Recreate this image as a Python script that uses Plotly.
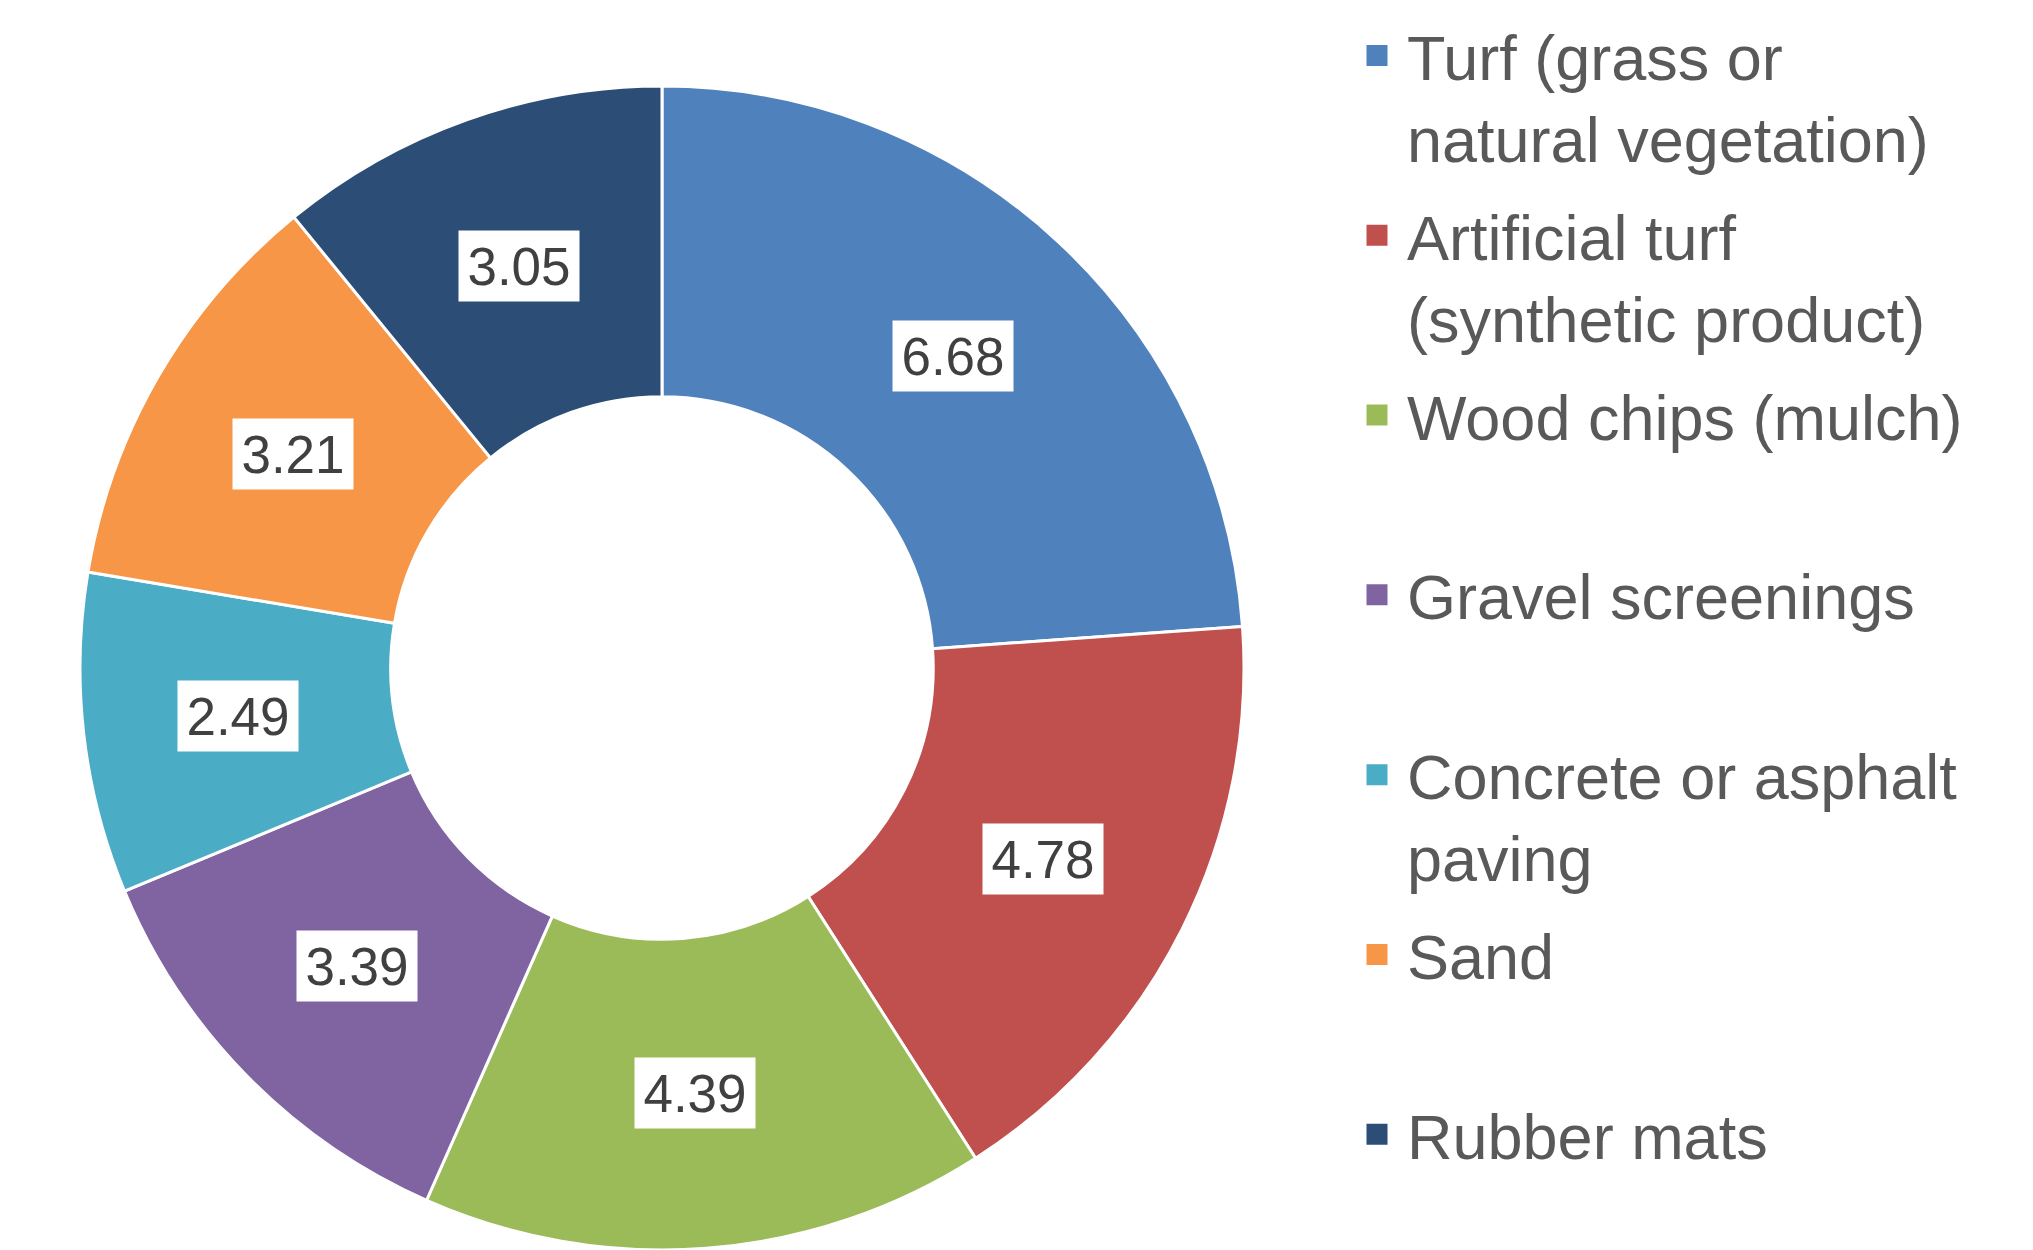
import math
import plotly.graph_objects as go

# data
surfaces = [
    "Turf (grass or<br>natural vegetation)",
    "Artificial turf<br>(synthetic product)",
    "Wood chips (mulch)",
    "Gravel screenings",
    "Concrete or asphalt<br>paving",
    "Sand",
    "Rubber mats",
]
scores = [6.68, 4.78, 4.39, 3.39, 2.49, 3.21, 3.05]
colors = ["#4F81BD", "#C0504D", "#9BBB59", "#8064A2", "#4BACC6", "#F79646", "#2C4D75"]

# the page body has an 8px margin, so the figure is sized to the visible part
PAGE = 8
W, H = 2033 - PAGE, 1250 - PAGE
cx, cy, R = 662 - PAGE, 668 - PAGE, 582
hole = 0.466

fig = go.Figure()

fig.add_trace(go.Pie(
    labels=surfaces,
    values=scores,
    sort=False,
    direction="clockwise",
    rotation=0,
    hole=hole,
    marker=dict(colors=colors, line=dict(color="white", width=3)),
    textinfo="none",
    showlegend=False,
    hoverinfo="label+value",
    domain=dict(x=[(cx - R) / W, (cx + R) / W], y=[max(0, 1 - (cy + R) / H), 1 - (cy - R) / H]),
))

# legend entries, one group each so the spacing is even
for i, (name, col) in enumerate(zip(surfaces, colors)):
    label = name if ("<br>" in name or i == len(surfaces) - 1) else name + "<br>\u00a0"
    fig.add_trace(go.Scatter(
        x=[None], y=[None], mode="markers", name=label,
        legendgroup=name,
        marker=dict(symbol="square", size=16, color=col, line=dict(color=col, width=5)),
    ))

# value labels in white boxes at the middle of the ring
total = sum(scores)
mid = R * (1 + hole) / 2
start = 0
for v in scores:
    ang = (start + v / 2) / total * 2 * math.pi
    start += v
    fig.add_annotation(
        x=(cx + mid * math.sin(ang)) / W,
        y=1 - (cy - mid * math.cos(ang)) / H,
        xref="paper", yref="paper",
        xanchor="center", yanchor="middle",
        text=f"{v:.2f}", showarrow=False,
        bgcolor="white", width=118, height=68, borderpad=1,
        font=dict(family="Arial, Liberation Sans", size=53, color="#404040"),
    )

fig.update_layout(
    width=W, height=H,
    margin=dict(l=0, r=0, t=0, b=0),
    paper_bgcolor="white",
    plot_bgcolor="white",
    xaxis=dict(visible=False),
    yaxis=dict(visible=False),
    legend=dict(
        x=1339 / W, y=1, xanchor="left", yanchor="top",
        valign="top", traceorder="grouped", tracegroupgap=13,
        itemwidth=50, maxheight=H,
        font=dict(family="Arial, Liberation Sans", size=63, color="#595959"),
    ),
)

fig.write_html("out.html")
